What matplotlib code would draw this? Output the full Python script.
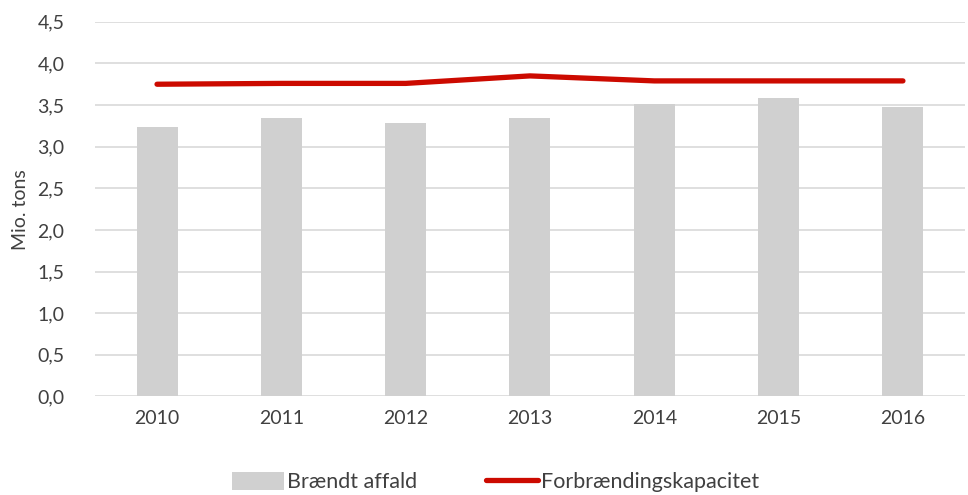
import numpy as np
import matplotlib.pyplot as plt

years = ["2010", "2011", "2012", "2013", "2014", "2015", "2016"]
braendt = [3.24, 3.35, 3.29, 3.34, 3.51, 3.59, 3.48]
kapacitet = [3.75, 3.76, 3.76, 3.85, 3.79, 3.79, 3.79]
yticks = [0, 0.5, 1.0, 1.5, 2.0, 2.5, 3.0, 3.5, 4.0, 4.5]

plt.rcParams['font.family'] = ['Lato', 'DejaVu Sans']
txt = '#404040'

fig = plt.figure(figsize=(9.68, 4.95), dpi=100)
ax = fig.add_axes([0.098, 0.199, 0.899, 0.757])

x = np.arange(len(years))
bars = ax.bar(x, braendt, width=0.33, color='#D0D0D0', label='Brændt affald', zorder=2)
line, = ax.plot(x, kapacitet, color='#CC0A00', lw=3.8, solid_capstyle='round',
                label='Forbrændingskapacitet', zorder=3)

ax.set_xlim(-0.5, len(years) - 0.5)
ax.set_ylim(0, 4.5)
ax.set_yticks(yticks)
ax.set_yticklabels([f"{v:.1f}".replace('.', ',') for v in yticks])
ax.set_xticks(x)
ax.set_xticklabels(years)
ax.grid(axis='y', color='#D9D9D9', lw=1.2, zorder=0)
ax.set_axisbelow(True)
for s in ax.spines.values():
    s.set_visible(False)
ax.tick_params(length=0, labelsize=14, colors=txt, pad=10)
ax.tick_params(axis='y', pad=22)
ax.set_ylabel("Mio. tons", fontsize=14, color=txt, labelpad=6)

ax.legend([bars, line], ['Brændt affald', 'Forbrændingskapacitet'],
          loc='upper center', bbox_to_anchor=(0.46, -0.15), ncol=2, frameon=False,
          fontsize=15.5, labelcolor=txt, handlelength=2.45, handleheight=0.9,
          handletextpad=0.1, columnspacing=3.2)

fig.savefig("out.png")
